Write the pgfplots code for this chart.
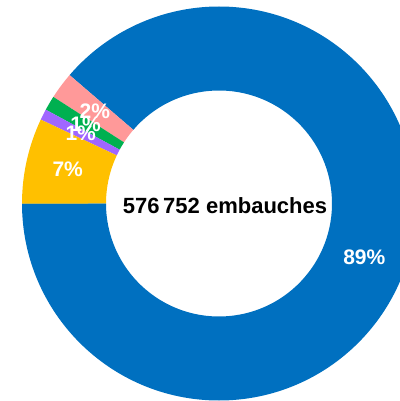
\documentclass[border=0pt]{standalone}
\usepackage{fontspec}
\setmainfont{Liberation Sans}
\usepackage{pgfplots}
\pgfplotsset{compat=1.18}
\definecolor{cBlue}{RGB}{0,112,192}
\definecolor{cYellow}{RGB}{255,192,0}
\definecolor{cViolet}{RGB}{160,102,255}
\definecolor{cGreen}{RGB}{0,176,80}
\definecolor{cRose}{RGB}{255,153,153}
% data (percent), in drawing order counter-clockwise from 9 o'clock
\def\vBlue{88.7}
\def\vPink{2.2}
\def\vGreen{1.2}
\def\vPurple{0.9}
\def\vYellow{7.0}
\def\Rout{197}
\def\Rin{113}
\def\Rlab{155}
\newcommand\slice[3]{%
  \fill[fill=#3] (axis cs:{\Rout*cos(#1)},{\Rout*sin(#1)}) arc[start angle=#1, end angle=#2, radius=\Rout bp]
     -- (axis cs:{\Rin*cos(#2)},{\Rin*sin(#2)}) arc[start angle=#2, end angle=#1, radius=\Rin bp] -- cycle;
}
\newcommand\slabel[3]{%
  \node[text=white, font=\bfseries\fontsize{21bp}{25bp}\selectfont, inner sep=0pt]
    at (axis cs:{\Rlab*cos((#1+#2)/2)},{\Rlab*sin((#1+#2)/2)}) {#3};
}
\begin{document}
\begin{tikzpicture}
\pgfmathsetmacro\aA{-180}
\pgfmathsetmacro\aB{\aA+3.6*\vBlue}
\pgfmathsetmacro\aC{\aB+3.6*\vPink}
\pgfmathsetmacro\aD{\aC+3.6*\vGreen}
\pgfmathsetmacro\aE{\aD+3.6*\vPurple}
\pgfmathsetmacro\aF{\aE+3.6*\vYellow}
\begin{axis}[
  x=1bp, y=1bp,
  xmin=-219, xmax=181, ymin=-197.5, ymax=203.5,
  hide axis, clip=true,
]
\addplot[draw=none] coordinates {(0,0)};
\slice{\aA}{\aB}{cBlue}
\slice{\aB}{\aC}{cRose}
\slice{\aC}{\aD}{cGreen}
\slice{\aD}{\aE}{cViolet}
\slice{\aE}{\aF}{cYellow}
\slabel{\aA}{\aB}{89\%}
\slabel{\aB}{\aC}{2\%}
\slabel{\aC}{\aD}{1\%}
\slabel{\aD}{\aE}{1\%}
\slabel{\aE}{\aF}{7\%}
\node[font=\bfseries\fontsize{22bp}{26bp}\selectfont, inner sep=0pt] at (axis cs:6,-2) {576\,752 embauches};
\end{axis}
\pgfresetboundingbox
\useasboundingbox (current axis.south west) rectangle (current axis.north east);
\end{tikzpicture}
\end{document}
